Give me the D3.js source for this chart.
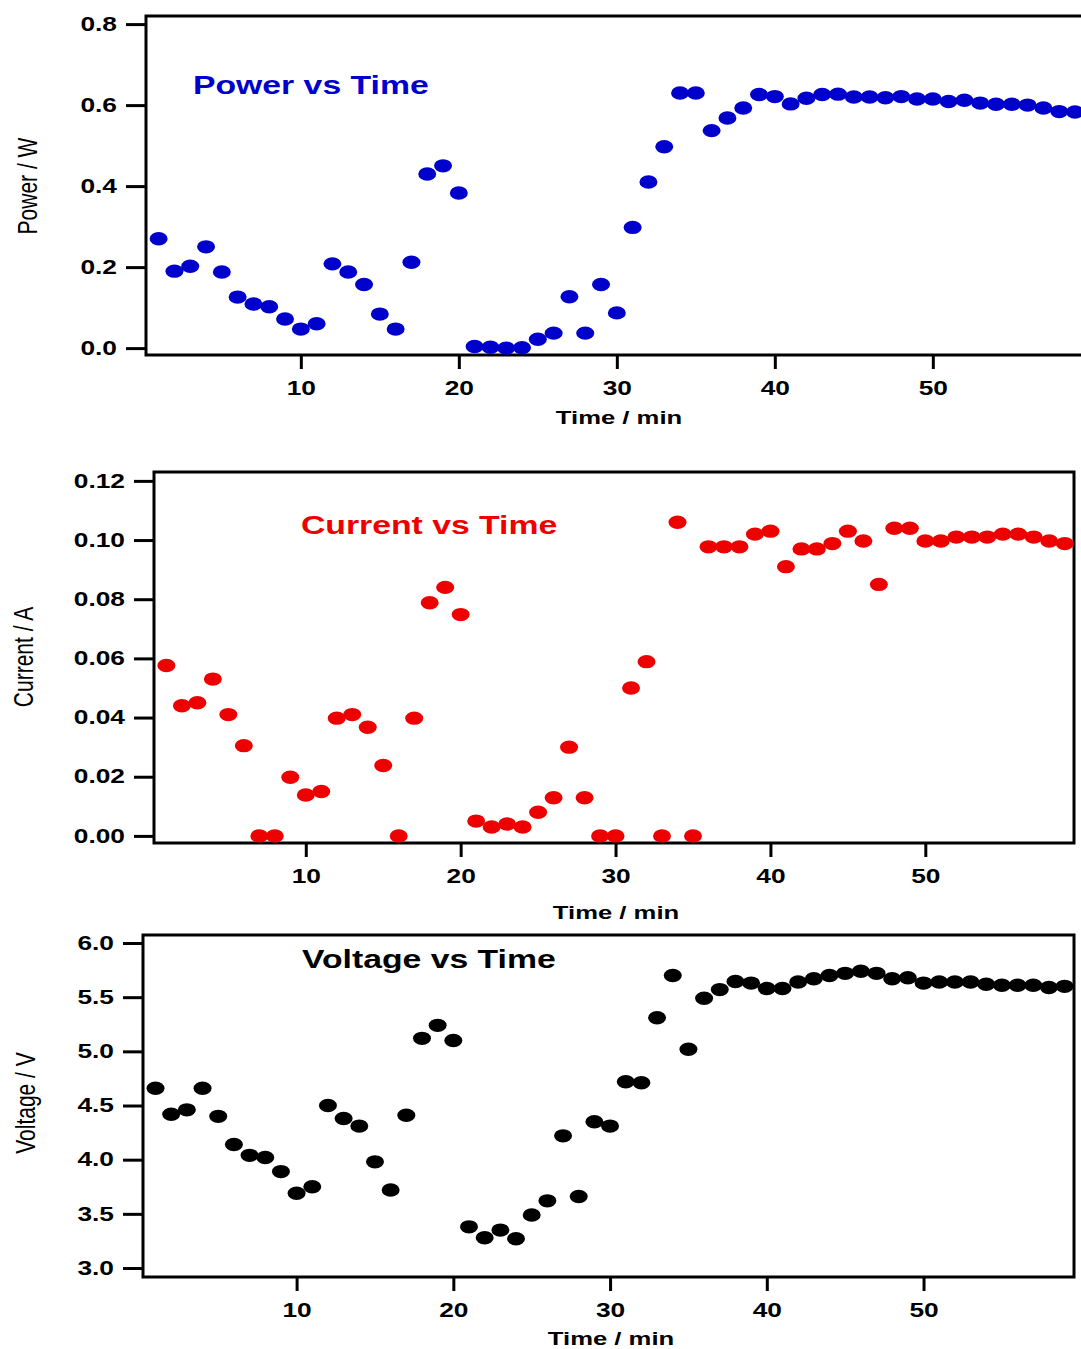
<!DOCTYPE html>
<html>
<head>
<meta charset="utf-8">
<script src="https://cdn.jsdelivr.net/npm/d3@7"></script>
<style>
  body { margin: 0; background: #ffffff; }
  text { font-family: "Liberation Sans", Arial, sans-serif; }
</style>
</head>
<body>
<div id="chart"></div>
<script>
// time axis (minutes)
var timeMin = [1, 2, 3, 4, 5, 6, 7, 8, 9, 10, 11, 12, 13, 14, 15, 16, 17, 18, 19, 20,
  21, 22, 23, 24, 25, 26, 27, 28, 29, 30, 31, 32, 33, 34, 35, 36, 37, 38, 39, 40,
  41, 42, 43, 44, 45, 46, 47, 48, 49, 50, 51, 52, 53, 54, 55, 56, 57, 58, 59];

// measured series
var powerW = [0.270, 0.190, 0.202, 0.250, 0.188, 0.126, 0.109, 0.102, 0.072, 0.047,
  0.060, 0.208, 0.188, 0.157, 0.084, 0.047, 0.212, 0.430, 0.450, 0.383,
  0.004, 0.002, 0.000, 0.001, 0.022, 0.037, 0.127, 0.037, 0.157, 0.087,
  0.298, 0.410, 0.497, 0.630, 0.630, 0.537, 0.568, 0.593, 0.626, 0.621,
  0.603, 0.617, 0.626, 0.627, 0.620, 0.620, 0.618, 0.621, 0.615, 0.615,
  0.609, 0.612, 0.605, 0.602, 0.602, 0.600, 0.593, 0.584, 0.583];

var currentA = [0.0576, 0.0440, 0.0450, 0.0530, 0.0410, 0.0305, 0.0000, 0.0000, 0.0198, 0.0138,
  0.0150, 0.0398, 0.0410, 0.0367, 0.0238, 0.0000, 0.0398, 0.0788, 0.0840, 0.0748,
  0.0050, 0.0030, 0.0040, 0.0030, 0.0080, 0.0129, 0.0300, 0.0129, 0.0000, 0.0000,
  0.0500, 0.0589, 0.0000, 0.1060, 0.0000, 0.0977, 0.0977, 0.0977, 0.1020, 0.1030,
  0.0910, 0.0970, 0.0970, 0.0988, 0.1030, 0.0997, 0.0850, 0.1040, 0.1040, 0.0997,
  0.0997, 0.1010, 0.1010, 0.1010, 0.1020, 0.1020, 0.1010, 0.0997, 0.0988];

var voltageV = [4.66, 4.42, 4.46, 4.66, 4.40, 4.14, 4.04, 4.02, 3.89, 3.69,
  3.75, 4.50, 4.38, 4.31, 3.98, 3.72, 4.41, 5.12, 5.24, 5.10,
  3.38, 3.28, 3.35, 3.27, 3.49, 3.62, 4.22, 3.66, 4.35, 4.31,
  4.72, 4.71, 5.31, 5.70, 5.02, 5.49, 5.57, 5.645, 5.63, 5.58,
  5.58, 5.64, 5.67, 5.70, 5.72, 5.74, 5.72, 5.67, 5.68, 5.63,
  5.64, 5.64, 5.64, 5.62, 5.61, 5.61, 5.61, 5.59, 5.60];

// tick labels
var timeTicks = [10, 20, 30, 40, 50];
var powerTicks = [0.0, 0.2, 0.4, 0.6, 0.8];
var currentTicks = [0.00, 0.02, 0.04, 0.06, 0.08, 0.10, 0.12];
var voltageTicks = [3.0, 3.5, 4.0, 4.5, 5.0, 5.5, 6.0];

function drawCharts() {

  var svgWidth = 1081;
  var svgHeight = 1349;
  // the picture is stretched sideways, so all text gets the same stretch
  var sx = 1.35;

  var svg = d3.select("#chart").append("svg")
    .attr("width", svgWidth)
    .attr("height", svgHeight);

  var panels = [
    {
      values: powerW, ticks: powerTicks, fmt: ".1f", yDomain: [-0.017, 0.82],
      left: 146, right: 1084.5, top: 16, bottom: 355,
      color: "#0000cc", title: "Power vs Time", titleX: 193, titleY: 94,
      yLabel: "Power / W", yLabelX: 27, yLabelY: 186, xLabelX: 619, xLabelY: 424
    },
    {
      values: currentA, ticks: currentTicks, fmt: ".2f", yDomain: [-0.0024, 0.123],
      left: 154, right: 1074, top: 472, bottom: 843,
      color: "#ee0000", title: "Current vs Time", titleX: 301, titleY: 534,
      yLabel: "Current / A", yLabelX: 23, yLabelY: 657, xLabelX: 616, xLabelY: 919
    },
    {
      values: voltageV, ticks: voltageTicks, fmt: ".1f", yDomain: [2.917, 6.074],
      left: 143, right: 1074, top: 935, bottom: 1277,
      color: "#000000", title: "Voltage vs Time", titleX: 302, titleY: 968,
      yLabel: "Voltage / V", yLabelX: 25, yLabelY: 1103, xLabelX: 611, xLabelY: 1345
    }
  ];

  panels.forEach(function(p) {

    var xScale = d3.scaleLinear().domain([0.2, 59.6]).range([p.left, p.right]);
    var yScale = d3.scaleLinear().domain(p.yDomain).range([p.bottom, p.top]);

    var g = svg.append("g");

    // frame
    g.append("rect")
      .attr("x", p.left)
      .attr("y", p.top)
      .attr("width", p.right - p.left)
      .attr("height", p.bottom - p.top)
      .attr("fill", "none")
      .attr("stroke", "#000")
      .attr("stroke-width", 3);

    // x axis
    var xAxis = g.append("g")
      .attr("transform", `translate(0, ${p.bottom})`)
      .call(d3.axisBottom(xScale).tickValues(timeTicks).tickSize(14).tickPadding(12).tickSizeOuter(0));

    // y axis
    var yAxis = g.append("g")
      .attr("transform", `translate(${p.left}, 0)`)
      .call(d3.axisLeft(yScale).tickValues(p.ticks).tickFormat(d3.format(p.fmt)).tickSize(20).tickSizeOuter(0));

    [xAxis, yAxis].forEach(function(ax) {
      ax.select(".domain").remove();
      ax.selectAll("line").attr("stroke", "#000").attr("stroke-width", 3);
      ax.selectAll("text")
        .attr("fill", "#000")
        .attr("font-size", "19.5px")
        .attr("font-weight", "bold");
    });

    xAxis.selectAll("text").attr("transform", `scale(${sx},1)`);
    yAxis.selectAll("text")
      .attr("x", -29 / sx)
      .attr("transform", `scale(${sx},1)`);

    // points
    g.selectAll("ellipse")
      .data(p.values)
      .enter()
      .append("ellipse")
      .attr("cx", (d, i) => xScale(timeMin[i]))
      .attr("cy", d => yScale(d))
      .attr("rx", 9)
      .attr("ry", 6.7)
      .attr("fill", p.color);

    // title inside plot
    g.append("text")
      .attr("transform", `translate(${p.titleX}, ${p.titleY}) scale(${sx},1)`)
      .attr("font-size", "25px")
      .attr("font-weight", "bold")
      .attr("fill", p.color)
      .text(p.title);

    // x label
    g.append("text")
      .attr("transform", `translate(${p.xLabelX}, ${p.xLabelY}) scale(${sx},1)`)
      .attr("text-anchor", "middle")
      .attr("font-size", "19px")
      .attr("font-weight", "bold")
      .attr("fill", "#000")
      .text("Time / min");

    // y label
    g.append("text")
      .attr("transform", `translate(${p.yLabelX}, ${p.yLabelY}) scale(${sx},1) rotate(-90)`)
      .attr("text-anchor", "middle")
      .attr("dy", "0.36em")
      .attr("font-size", "21px")
      .attr("fill", "#000")
      .text(p.yLabel);
  });
}

drawCharts();
</script>
</body>
</html>
